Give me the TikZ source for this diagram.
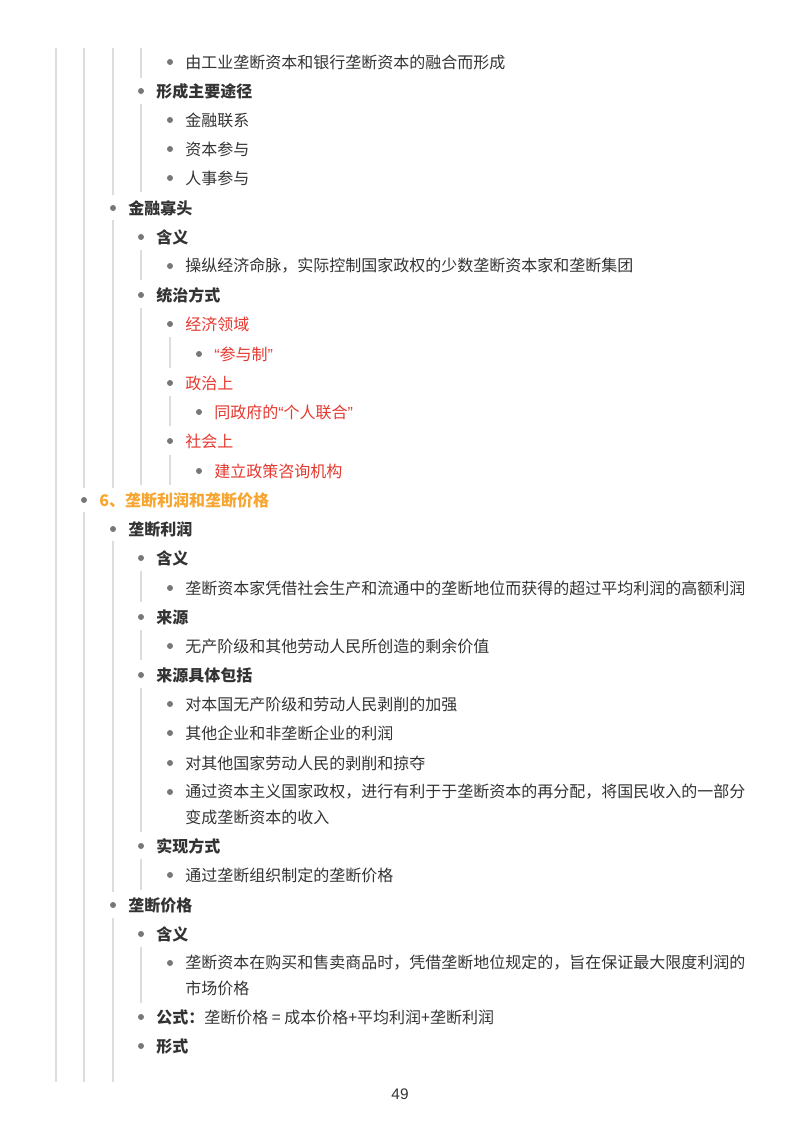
\documentclass[tikz,border=0pt]{standalone}
\usepackage{fontspec}
\setmainfont{Noto Sans CJK SC}
\newfontfamily\numfont{Liberation Sans}
\definecolor{txt}{HTML}{333333}
\definecolor{redt}{HTML}{E5382F}
\definecolor{orat}{HTML}{F7A531}
\definecolor{gl}{HTML}{DDDDDD}
\definecolor{bul}{HTML}{777777}
\newcommand\myLq{{\numfont “}}
\newcommand\myRq{{\numfont ”}}
\begin{document}
\begin{tikzpicture}[x=0.75pt,y=-0.75pt,
  t/.style={anchor=west,inner sep=0pt,font=\fontsize{12pt}{18pt}\selectfont,text=txt},
  b/.style={t,font=\fontsize{12pt}{18pt}\selectfont\bfseries},
  r/.style={t,text=redt},
  o/.style={b,text=orat},
  guide/.style={draw=gl,line width=0.8pt}]
\useasboundingbox (0,0) rectangle (800,1132);
\newcommand\itm[5]{\fill[bul] (#2,#3) circle (3);
  \node[#4] (#1) at (#2+15,#3) {#5};}
% guide lines
\draw[guide] (56,48)--(56,1082);
\draw[guide] (84,48)--(84,488) (84,512)--(84,1082);
\draw[guide] (113,48)--(113,195) (113,220)--(113,488) (113,541)--(113,892) (113,918)--(113,1082);
\draw[guide] (141,48)--(141,78) (141,104)--(141,192) (141,250)--(141,280) (141,308)--(141,485)
  (141,571)--(141,602) (141,630)--(141,660) (141,688)--(141,832) (141,859)--(141,890) (141,947)--(141,1003);
\draw[guide] (170,337)--(170,368) (170,396)--(170,426) (170,455)--(170,485);
% items
\itm{n1}{170}{62}{t}{由工业垄断资本和银行垄断资本的融合而形成}
\itm{n2}{141}{91}{b}{形成主要途径}
\itm{n3}{170}{120}{t}{金融联系}
\itm{n4}{170}{149}{t}{资本参与}
\itm{n5}{170}{178}{t}{人事参与}
\itm{n6}{113}{208}{b}{金融寡头}
\itm{n7}{141}{237}{b}{含义}
\itm{n8}{170}{266}{t}{操纵经济命脉，实际控制国家政权的少数垄断资本家和垄断集团}
\itm{n9}{141}{295}{b}{统治方式}
\itm{n10}{170}{324}{r}{经济领域}
\itm{n11}{199}{354}{r}{\myLq 参与制\myRq}
\itm{n12}{170}{383}{r}{政治上}
\itm{n13}{199}{412}{r}{同政府的\myLq 个人联合\myRq}
\itm{n14}{170}{441}{r}{社会上}
\itm{n15}{199}{471}{r}{建立政策咨询机构}
\itm{n16}{84}{500}{o}{6、垄断利润和垄断价格}
\itm{n17}{113}{529}{b}{垄断利润}
\itm{n18}{141}{558}{b}{含义}
\itm{n19}{170}{588}{t}{垄断资本家凭借社会生产和流通中的垄断地位而获得的超过平均利润的高额利润}
\itm{n20}{141}{617}{b}{来源}
\itm{n21}{170}{646}{t}{无产阶级和其他劳动人民所创造的剩余价值}
\itm{n22}{141}{675}{b}{来源具体包括}
\itm{n23}{170}{704}{t}{对本国无产阶级和劳动人民剥削的加强}
\itm{n24}{170}{733}{t}{其他企业和非垄断企业的利润}
\itm{n25}{170}{763}{t}{对其他国家劳动人民的剥削和掠夺}
\itm{n26}{170}{792}{t}{通过资本主义国家政权，进行有利于于垄断资本的再分配，将国民收入的一部分}
\node[t] (n26b) at (185,817) {变成垄断资本的收入};
\itm{n27}{141}{846}{b}{实现方式}
\itm{n28}{170}{875}{t}{通过垄断组织制定的垄断价格}
\itm{n29}{113}{905}{b}{垄断价格}
\itm{n30}{141}{934}{b}{含义}
\itm{n31}{170}{963}{t}{垄断资本在购买和售卖商品时，凭借垄断地位规定的，旨在保证最大限度利润的}
\node[t] (n31b) at (185,988) {市场价格};
\itm{n32}{141}{1017}{t}{\textbf{公式：}垄断价格 = 成本价格+平均利润+垄断利润}
\itm{n33}{141}{1046}{b}{形式}
\node[inner sep=0pt,text=txt,font=\numfont\fontsize{11.5pt}{14pt}\selectfont] (pg) at (400,1094) {49};
\end{tikzpicture}
\end{document}
